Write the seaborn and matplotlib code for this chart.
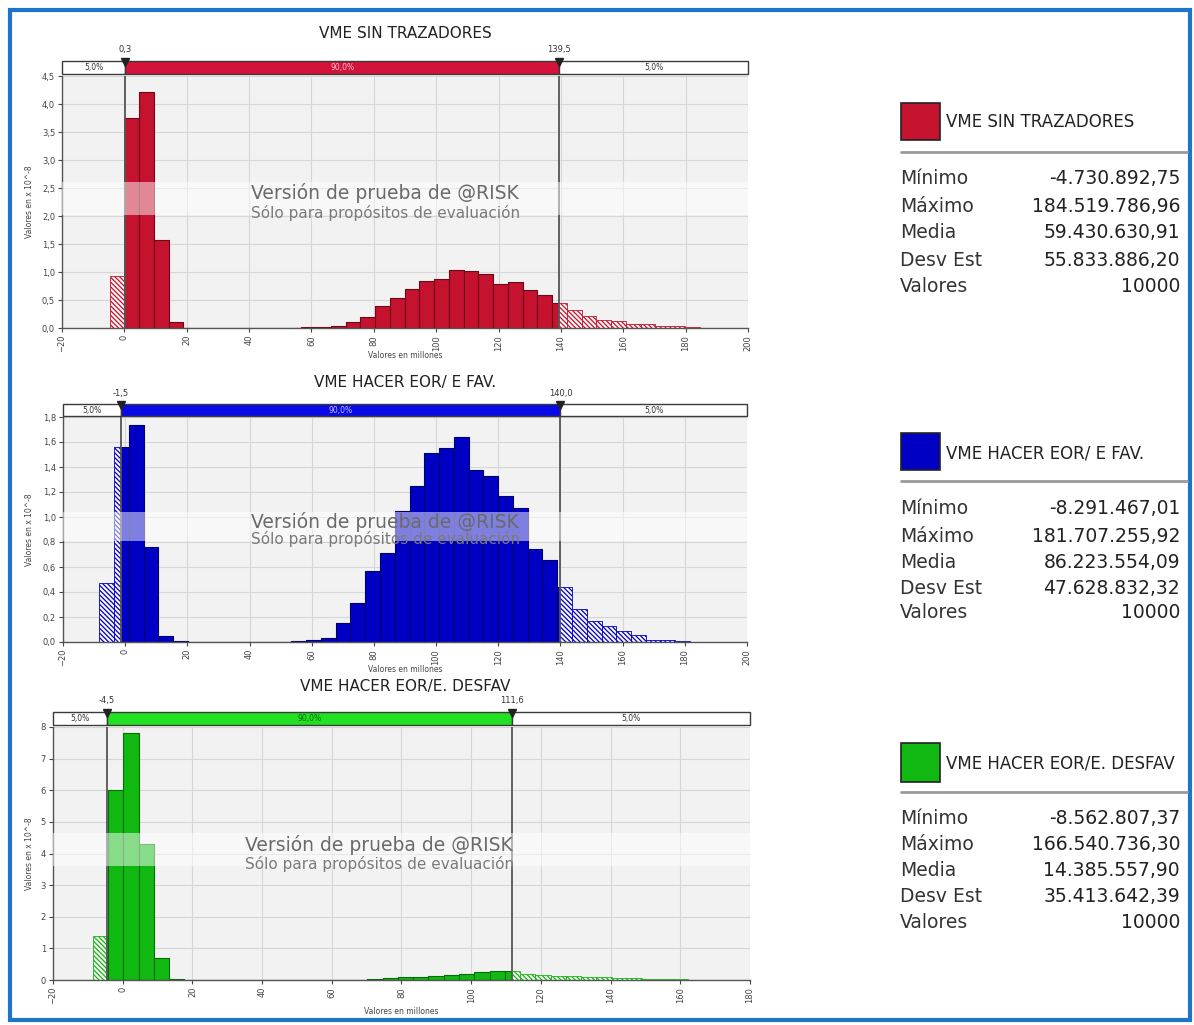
import numpy as np
import pandas as pd
import matplotlib
matplotlib.use("Agg")
import matplotlib.pyplot as plt
import seaborn as sns
from matplotlib.patches import Rectangle
from matplotlib.lines import Line2D
from matplotlib.ticker import FuncFormatter

titulos = ["VME SIN TRAZADORES", "VME HACER EOR/ E FAV.", "VME HACER EOR/E. DESFAV"]
minimo = [-4730892.75, -8291467.01, -8562807.37]
maximo = [184519786.96, 181707255.92, 166540736.30]
media = [59430630.91, 86223554.09, 14385557.90]
desv_est = [55833886.20, 47628832.32, 35413642.39]
valores = [10000, 10000, 10000]
p5 = [0.3, -1.5, -4.5]
p95 = [139.5, 140.0, 111.6]
colas = [5.0, 90.0, 5.0]

# densidad por clase (40 clases entre minimo y maximo), en 10^-8
dens_sin = [0.93, 3.75, 4.22, 1.58, 0.10, 0.006, 0.004, 0.004, 0.004, 0.004,
            0.005, 0.006, 0.008, 0.015, 0.02, 0.04, 0.10, 0.19, 0.39, 0.53,
            0.70, 0.84, 0.88, 1.03, 1.02, 0.96, 0.79, 0.82, 0.67, 0.59,
            0.45, 0.33, 0.22, 0.15, 0.13, 0.08, 0.08, 0.04, 0.03, 0.02]
dens_fav = [0.476, 1.564, 1.74, 0.76, 0.05, 0.005, 0.004, 0.004, 0.004, 0.004,
            0.004, 0.004, 0.004, 0.006, 0.013, 0.035, 0.153, 0.314, 0.572, 0.71,
            1.05, 1.25, 1.51, 1.55, 1.64, 1.375, 1.33, 1.17, 1.07, 0.745,
            0.66, 0.44, 0.26, 0.17, 0.13, 0.09, 0.06, 0.02, 0.015, 0.01]
dens_desfav = [1.4, 6.0, 7.8, 4.3, 0.7, 0.03, 0.005, 0.005, 0.005, 0.005,
               0.005, 0.005, 0.005, 0.005, 0.005, 0.005, 0.008, 0.01, 0.03, 0.05,
               0.08, 0.10, 0.12, 0.15, 0.20, 0.25, 0.27, 0.27, 0.20, 0.17,
               0.14, 0.12, 0.10, 0.08, 0.07, 0.05, 0.04, 0.03, 0.02, 0.01]
densidades = [dens_sin, dens_fav, dens_desfav]

colores = ["#C4122F", "#0000C4", "#12B812"]
bordes = ["#6E0818", "#00006A", "#066E06"]
barra_col = ["#D4133A", "#0A0AE6", "#22E022"]
txt_barra = ["#F4C2CC", "#C0C0FF", "#0A6A0A"]

sns.set_style("whitegrid")
plt.rcParams["font.family"] = ["DejaVu Sans"]
plt.rcParams["hatch.linewidth"] = 0.9

W, H = 1194, 1025
fig = plt.figure(figsize=(W / 100, H / 100), dpi=100)


def caja(x0, x1, y0, y1):
    return fig.add_axes([x0 / W, 1 - y1 / H, (x1 - x0) / W, (y1 - y0) / H])


def coma(v, dec=1):
    return f"{v:.{dec}f}".replace(".", ",")


def miles(v):
    return f"{v:,.2f}".replace(",", "X").replace(".", ",").replace("X", ".")


cajas = [(62, 748, 76, 328), (63, 747, 417, 642), (53, 750, 727, 980)]
barras = [(61, 74), (404, 416), (712, 725)]
titulo_y = [33, 383, 687]
xlabel_y = [356, 669, 1012]
xlims = [(-20, 200), (-20, 200), (-20, 180)]
ylims = [4.5, 1.8, 8]
ypasos = [0.5, 0.2, 1]
ydec = [1, 1, 0]
# cuadro, encabezado, linea, filas (px)
paneles = [((103, 140), 122, 152, [179, 206, 232, 260, 287]),
           ((433, 470), 453, 481, [509, 536, 562, 588, 613]),
           ((743, 782), 763, 792, [818, 844, 870, 897, 923])]

for i in range(3):
    d = densidades[i]
    bc = list(np.linspace(minimo[i] / 1e6, maximo[i] / 1e6, len(d) + 1))
    centros = [(a + b) / 2 for a, b in zip(bc[:-1], bc[1:])]
    df = pd.DataFrame({"valor": centros, "dens": d})
    x0, x1, y0, y1 = cajas[i]
    ax = caja(x0, x1, y0, y1)
    ax.set_facecolor("#F2F2F2")

    # barras rayadas (colas)
    sns.histplot(data=df, x="valor", weights="dens", bins=bc, ax=ax,
                 color=colores[i], alpha=1, linewidth=0.6)
    for p in ax.patches:
        p.set_facecolor("#FAF6F6")
        p.set_hatch("\\" * 7)
        p.set_edgecolor(colores[i])
    n = len(ax.patches)
    # barras solidas entre p5 y p95
    sns.histplot(data=df, x="valor", weights="dens", bins=bc, ax=ax,
                 color=colores[i], alpha=1, edgecolor=bordes[i], linewidth=0.8)
    recorte = Rectangle((p5[i], 0), p95[i] - p5[i], ylims[i] * 1.2, transform=ax.transData)
    for p in ax.patches[n:]:
        p.set_clip_path(recorte)

    lo, hi = xlims[i]
    ax.set_xlim(lo, hi)
    ax.set_ylim(0, ylims[i])
    ax.set_xticks(np.arange(lo, hi + 1, 20))
    ax.set_yticks(np.arange(0, ylims[i] + 1e-9, ypasos[i]))
    ax.yaxis.set_major_formatter(FuncFormatter(lambda v, _, k=ydec[i]: coma(v, k)))
    ax.tick_params(axis="x", labelrotation=90)
    ax.tick_params(labelsize=6, length=3, colors="#444444", left=True, bottom=True, pad=2)
    ax.set_xlabel("")
    ax.set_ylabel("")
    ax.grid(True, color="#D6D6D6", lw=0.8)
    ax.set_axisbelow(True)
    for s in ["top", "right"]:
        ax.spines[s].set_visible(False)
    for s in ["left", "bottom"]:
        ax.spines[s].set_color("#555555")
        ax.spines[s].set_linewidth(1)
    ax.axvline(p5[i], color="#555555", lw=1.3, zorder=6)
    ax.axvline(p95[i], color="#555555", lw=1.3, zorder=6)

    # marca de agua
    ax.add_patch(Rectangle((0, 0.45), 1, 0.13, transform=ax.transAxes,
                           facecolor="white", alpha=0.5, lw=0, zorder=7))
    ax.text(0.275, 0.535, "Versión de prueba de @RISK", transform=ax.transAxes,
            fontsize=13.5, color="#6A6A6A", va="center", zorder=8)
    ax.text(0.275, 0.458, "Sólo para propósitos de evaluación", transform=ax.transAxes,
            fontsize=11, color="#7A7A7A", va="center", zorder=8)

    # barra de percentiles
    b0, b1 = barras[i]
    bx = caja(x0, x1, b0, b1)
    bx.set_xlim(lo, hi)
    bx.set_ylim(0, 1)
    bx.axis("off")
    tramos = [(lo, p5[i], "white"), (p5[i], p95[i], barra_col[i]), (p95[i], hi, "white")]
    for (a, b, c), pct, tc in zip(tramos, colas, ["#333333", txt_barra[i], "#333333"]):
        bx.barh(0.5, b - a, left=a, height=1, color=c, edgecolor="#3A3A3A", lw=1, clip_on=False)
        bx.text((a + b) / 2, 0.5, coma(pct) + "%", ha="center", va="center", fontsize=5.5, color=tc)
    bx.plot([p5[i], p95[i]], [0.95, 0.95], "v", color="#222222", ms=6, clip_on=False)
    for v in [p5[i], p95[i]]:
        bx.text(v, 1.85, coma(v), ha="center", va="center", fontsize=6, color="#333333")

    fig.text(405 / W, 1 - titulo_y[i] / H, titulos[i], ha="center", va="center",
             fontsize=11, color="#222222")
    fig.text((x0 + x1) / 2 / W, 1 - xlabel_y[i] / H, "Valores en millones", ha="center",
             va="center", fontsize=5.5, color="#444444")
    fig.text(30 / W, 1 - (y0 + y1) / 2 / H, "Valores en x 10^-8", rotation=90, ha="center",
             va="center", fontsize=5.5, color="#444444")

    # panel de estadisticas
    (s0, s1), hy, ly, filas = paneles[i]
    fig.add_artist(Rectangle((901 / W, 1 - s1 / H), 39 / W, (s1 - s0) / H,
                             transform=fig.transFigure, facecolor=colores[i],
                             edgecolor="#222222", lw=1.2))
    fig.text(946 / W, 1 - hy / H, titulos[i], va="center", fontsize=12, color="#222222")
    fig.add_artist(Line2D([901 / W, 1187 / W], [1 - ly / H] * 2, color="#9A9A9A", lw=2))
    etiquetas = ["Mínimo", "Máximo", "Media", "Desv Est", "Valores"]
    textos = [miles(minimo[i]), miles(maximo[i]), miles(media[i]), miles(desv_est[i]), str(valores[i])]
    for y, e, t in zip(filas, etiquetas, textos):
        fig.text(900 / W, 1 - y / H, e, va="center", fontsize=13.5, color="#333333")
        fig.text(1180 / W, 1 - y / H, t, va="center", ha="right", fontsize=13.5, color="#222222")

fig.add_artist(Rectangle((10 / W, 5 / H), 1180 / W, 1010 / H, transform=fig.transFigure,
                         fill=False, edgecolor="#1E74C6", lw=3))

fig.savefig("out.png", dpi=100)
